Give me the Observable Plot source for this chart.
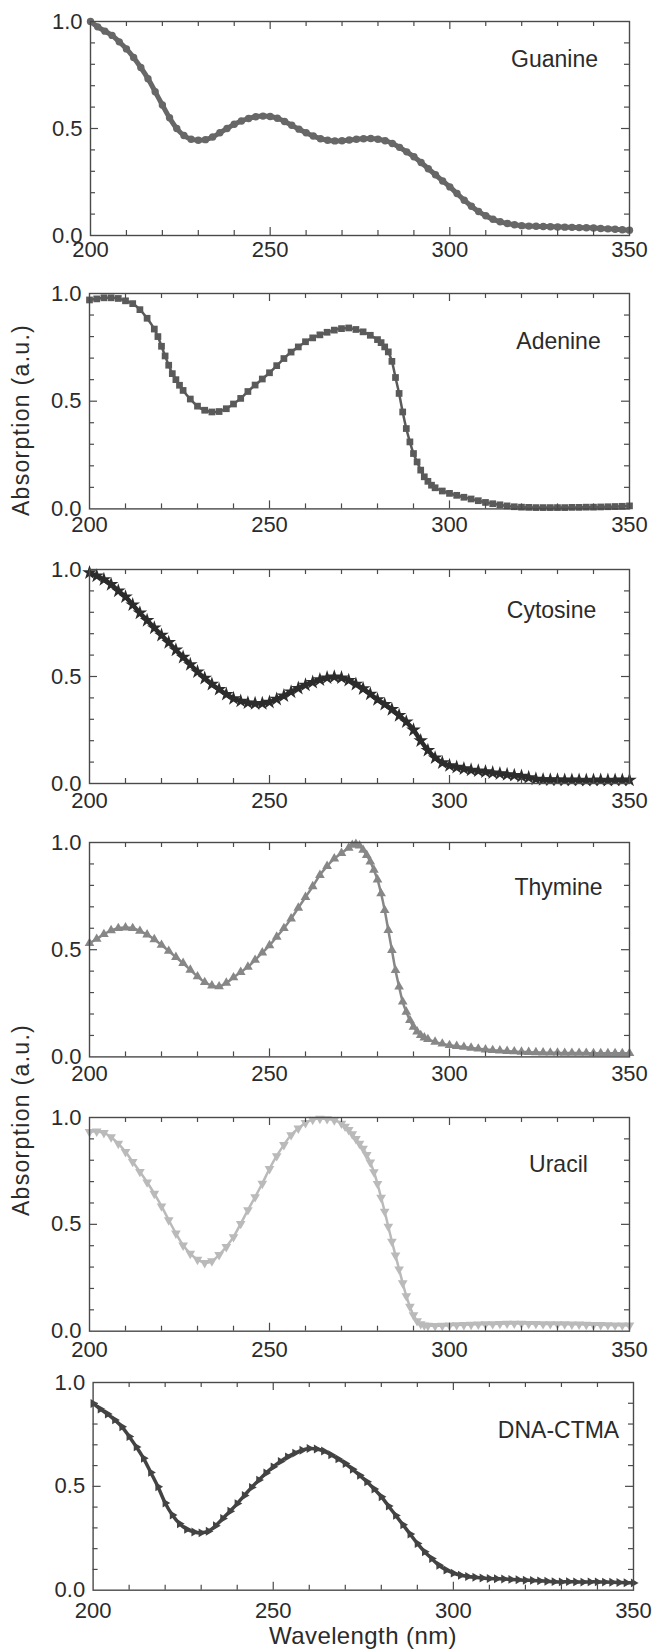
<!DOCTYPE html>
<html><head><meta charset="utf-8">
<script src="https://cdn.jsdelivr.net/npm/d3@7"></script>
<script src="https://cdn.jsdelivr.net/npm/@observablehq/plot@0.6"></script>
<style>
html,body{margin:0;padding:0;background:#fff;}
#chart{position:relative;width:654px;height:1650px;overflow:hidden;font-family:"Liberation Sans",Arial,Helvetica,sans-serif;color:#2b2b2b;background:#fff;}
#chart svg{position:absolute;left:0;}
.ylab{position:absolute;white-space:nowrap;font-size:23px;letter-spacing:1.3px;line-height:23px;transform:translate(-50%,-50%) rotate(-90deg);}
.xlab{position:absolute;white-space:nowrap;font-size:24px;line-height:24px;letter-spacing:0.4px;transform:translateX(-50%);}
</style></head><body><div id="chart"></div><script>
// ---- data (wavelength nm, absorption a.u.) ----
const guanine = [[200,1.000],[202,0.975],[204,0.955],[206,0.935],[208,0.905],[210,0.872],[212,0.832],[214,0.785],[216,0.733],[218,0.672],[220,0.610],[222,0.550],[224,0.500],[226,0.467],[228,0.450],[230,0.445],[232,0.448],[234,0.460],[236,0.480],[238,0.500],[240,0.520],[242,0.535],[244,0.547],[246,0.555],[248,0.558],[250,0.556],[252,0.548],[254,0.533],[256,0.515],[258,0.497],[260,0.480],[262,0.465],[264,0.452],[266,0.445],[268,0.442],[270,0.443],[272,0.446],[274,0.450],[276,0.452],[278,0.453],[280,0.450],[282,0.443],[284,0.430],[286,0.412],[288,0.391],[290,0.368],[292,0.341],[294,0.312],[296,0.284],[298,0.255],[300,0.227],[302,0.196],[304,0.165],[306,0.137],[308,0.112],[310,0.092],[312,0.076],[314,0.064],[316,0.056],[318,0.050],[320,0.046],[322,0.044],[324,0.043],[326,0.042],[328,0.041],[330,0.040],[332,0.039],[334,0.038],[336,0.037],[338,0.036],[340,0.035],[342,0.033],[344,0.031],[346,0.029],[348,0.027],[350,0.025]];
const adenine = [[200,0.970],[202,0.975],[204,0.980],[206,0.980],[208,0.977],[210,0.966],[212,0.953],[214,0.925],[216,0.885],[218,0.835],[219,0.800],[220,0.755],[221,0.710],[222,0.667],[223,0.628],[224,0.600],[225,0.574],[226,0.550],[228,0.510],[230,0.477],[232,0.458],[234,0.450],[236,0.452],[238,0.465],[240,0.487],[242,0.513],[244,0.545],[246,0.575],[248,0.603],[250,0.632],[252,0.665],[254,0.698],[256,0.728],[258,0.752],[260,0.776],[262,0.794],[264,0.808],[266,0.820],[268,0.830],[270,0.837],[272,0.840],[274,0.833],[276,0.822],[278,0.806],[280,0.786],[281,0.772],[282,0.752],[283,0.729],[284,0.685],[285,0.610],[286,0.536],[287,0.450],[288,0.373],[289,0.311],[290,0.257],[291,0.218],[292,0.180],[293,0.149],[294,0.128],[295,0.110],[296,0.098],[298,0.083],[300,0.072],[302,0.063],[304,0.054],[306,0.046],[308,0.038],[310,0.030],[312,0.024],[314,0.019],[316,0.014],[318,0.010],[320,0.008],[322,0.007],[324,0.006],[326,0.006],[328,0.006],[330,0.006],[332,0.006],[334,0.007],[336,0.007],[338,0.008],[340,0.008],[342,0.009],[344,0.010],[346,0.011],[348,0.012],[350,0.014]];
const cytosine = [[200,0.985],[202,0.970],[204,0.953],[206,0.930],[208,0.900],[210,0.872],[212,0.835],[214,0.797],[216,0.762],[218,0.727],[220,0.693],[222,0.659],[224,0.624],[226,0.590],[228,0.556],[230,0.522],[232,0.492],[234,0.464],[236,0.440],[238,0.417],[240,0.397],[242,0.385],[244,0.377],[246,0.374],[248,0.374],[250,0.380],[252,0.394],[254,0.410],[256,0.428],[258,0.445],[260,0.460],[262,0.473],[264,0.485],[266,0.494],[268,0.498],[270,0.494],[272,0.482],[274,0.464],[276,0.443],[278,0.418],[280,0.392],[282,0.370],[284,0.346],[286,0.318],[288,0.288],[290,0.250],[292,0.200],[294,0.155],[296,0.120],[298,0.097],[300,0.084],[302,0.076],[304,0.069],[306,0.063],[308,0.059],[310,0.055],[312,0.050],[314,0.046],[316,0.042],[318,0.038],[320,0.034],[322,0.028],[324,0.021],[326,0.018],[328,0.017],[330,0.017],[332,0.016],[334,0.016],[336,0.016],[338,0.015],[340,0.016],[342,0.016],[344,0.015],[346,0.016],[348,0.016],[350,0.016]];
const thymine = [[200,0.530],[202,0.550],[204,0.572],[206,0.590],[208,0.600],[210,0.603],[212,0.600],[214,0.587],[216,0.570],[218,0.548],[220,0.522],[222,0.494],[224,0.465],[226,0.437],[228,0.406],[230,0.375],[232,0.348],[234,0.332],[236,0.328],[238,0.345],[240,0.370],[242,0.395],[244,0.420],[246,0.452],[248,0.486],[250,0.520],[252,0.560],[254,0.600],[256,0.645],[258,0.695],[260,0.745],[262,0.795],[264,0.848],[266,0.890],[268,0.925],[270,0.950],[272,0.975],[273,0.988],[274,0.993],[275,0.985],[276,0.965],[277,0.941],[278,0.910],[279,0.872],[280,0.827],[281,0.762],[282,0.684],[283,0.591],[284,0.498],[285,0.404],[286,0.327],[287,0.257],[288,0.210],[289,0.171],[290,0.140],[291,0.118],[292,0.101],[293,0.090],[294,0.082],[296,0.070],[298,0.061],[300,0.054],[302,0.050],[304,0.046],[306,0.042],[308,0.038],[310,0.034],[312,0.031],[314,0.029],[316,0.027],[318,0.025],[320,0.023],[322,0.022],[324,0.021],[326,0.020],[328,0.019],[330,0.019],[332,0.018],[334,0.018],[336,0.018],[338,0.018],[340,0.017],[342,0.017],[344,0.017],[346,0.017],[348,0.017],[350,0.017]];
const uracil = [[200,0.933],[202,0.935],[204,0.928],[206,0.908],[208,0.878],[210,0.839],[212,0.793],[214,0.746],[216,0.697],[218,0.644],[220,0.585],[222,0.520],[224,0.458],[226,0.402],[228,0.363],[230,0.335],[232,0.320],[234,0.328],[236,0.357],[238,0.395],[240,0.441],[242,0.503],[244,0.567],[246,0.628],[248,0.691],[250,0.760],[252,0.820],[254,0.872],[256,0.918],[258,0.949],[260,0.975],[262,0.990],[264,0.995],[266,0.993],[268,0.987],[270,0.972],[271,0.958],[272,0.942],[273,0.922],[274,0.900],[275,0.878],[276,0.855],[277,0.825],[278,0.790],[279,0.745],[280,0.690],[281,0.625],[282,0.560],[283,0.490],[284,0.420],[285,0.355],[286,0.290],[287,0.225],[288,0.165],[289,0.115],[290,0.075],[291,0.048],[292,0.034],[293,0.028],[294,0.026],[296,0.025],[298,0.026],[300,0.028],[302,0.029],[304,0.030],[306,0.031],[308,0.032],[310,0.033],[312,0.034],[314,0.035],[316,0.036],[318,0.036],[320,0.036],[322,0.035],[324,0.035],[326,0.034],[328,0.034],[330,0.033],[332,0.033],[334,0.032],[336,0.032],[338,0.031],[340,0.030],[342,0.030],[344,0.029],[346,0.028],[348,0.028],[350,0.027]];
const dnaCtma = [[200,0.899],[202,0.872],[204,0.848],[206,0.820],[208,0.787],[210,0.740],[212,0.690],[214,0.635],[216,0.567],[218,0.498],[220,0.420],[222,0.362],[224,0.320],[226,0.293],[228,0.280],[230,0.276],[232,0.284],[234,0.310],[236,0.345],[238,0.380],[240,0.417],[242,0.456],[244,0.495],[246,0.530],[248,0.564],[250,0.594],[252,0.620],[254,0.642],[256,0.660],[258,0.674],[260,0.682],[262,0.680],[264,0.670],[266,0.652],[268,0.632],[270,0.610],[272,0.582],[274,0.553],[276,0.522],[278,0.487],[280,0.450],[282,0.405],[284,0.360],[286,0.315],[288,0.270],[290,0.225],[292,0.185],[294,0.152],[296,0.120],[298,0.097],[300,0.082],[302,0.072],[304,0.066],[306,0.062],[308,0.059],[310,0.056],[312,0.055],[314,0.054],[316,0.052],[318,0.050],[320,0.048],[322,0.047],[324,0.045],[326,0.043],[328,0.041],[330,0.040],[332,0.041],[334,0.040],[336,0.039],[338,0.040],[340,0.040],[342,0.039],[344,0.038],[346,0.037],[348,0.036],[350,0.035]];

const seriesNames = ["Guanine", "Adenine", "Cytosine", "Thymine", "Uracil", "DNA-CTMA"];
const seriesData = [guanine, adenine, cytosine, thymine, uracil, dnaCtma];
const xTickLabels = [200, 250, 300, 350];
const yTickLabels = [0, 0.5, 1.0];
const xMinorTicks = [210, 220, 230, 240, 260, 270, 280, 290, 310, 320, 330, 340];
const xMajorTicks = [250, 300];
const yMinorTicks = [0.1, 0.2, 0.3, 0.4, 0.6, 0.7, 0.8, 0.9];
const yMajorTicks = [0.5];
const yTitle = "Absorption (a.u.)";
const xTitle = "Wavelength (nm)";

// ---- styles / layout ----
const FONT = '"Liberation Sans", Arial, Helvetica, sans-serif';
const AXIS = "#4a4a4a";
const styles = [
  {color: "#676767", symbol: "circle",   r: 3.7, rotate: 0,   lw: 5,   frame: [90, 629, 21.3, 235.3],  label: [-75, 29], pad: 6},
  {color: "#5a5a5a", symbol: "square",   r: 3.8, rotate: 0,   lw: 2.5, frame: [89, 629, 293.3, 508.7], label: [-71, 39], pad: 7},
  {color: "#2c2c2c", symbol: "star",     r: 4.6, rotate: 0,   lw: 4.5, frame: [89, 629, 569.3, 783.3], label: [-78, 32], pad: 9},
  {color: "#878787", symbol: "triangle", r: 3.6, rotate: 0,   lw: 2.5, frame: [89, 629, 842.3, 1056.7],label: [-71, 36], pad: 8},
  {color: "#bababa", symbol: "triangle", r: 3.6, rotate: 180, lw: 2.5, frame: [89, 629, 1117.3, 1331], label: [-71, 38], pad: 10},
  {color: "#434343", symbol: "triangle", r: 3.3, rotate: 90,  lw: 3.5, frame: [92.6, 633, 1382.3, 1590], label: [-75, 39], pad: 12}
];

const chart = document.getElementById("chart");
seriesNames.forEach((name, i) => {
  const s = styles[i];
  const [L, R, T, B] = s.frame;
  const H = B - T, Wf = R - L;
  const mt = 30, mb = 45;
  const rows = seriesData[i].map(([x, y]) => ({x, y}));
  const tick = {stroke: AXIS, strokeWidth: 1.2};
  const svg = Plot.plot({
    width: 654, height: H + mt + mb,
    marginLeft: L, marginRight: 654 - R, marginTop: mt, marginBottom: mb,
    x: {domain: [200, 350]},
    y: {domain: [0, 1]},
    style: {background: "transparent", overflow: "visible", fontFamily: FONT, color: "#2b2b2b"},
    marks: [
      Plot.line(rows, {x: "x", y: "y", stroke: s.color, strokeWidth: s.lw, curve: "catmull-rom"}),
      Plot.dot(rows, {x: "x", y: "y", symbol: s.symbol, r: s.r, fill: s.color, stroke: "none", rotate: s.rotate}),
      Plot.ruleX(xMinorTicks, {...tick, insetTop: H - 5}),
      Plot.ruleX(xMinorTicks, {...tick, insetBottom: H - 5}),
      Plot.ruleX(xMajorTicks, {...tick, insetTop: H - 8}),
      Plot.ruleX(xMajorTicks, {...tick, insetBottom: H - 8}),
      Plot.ruleY(yMinorTicks, {...tick, insetRight: Wf - 5}),
      Plot.ruleY(yMinorTicks, {...tick, insetLeft: Wf - 5}),
      Plot.ruleY(yMajorTicks, {...tick, insetRight: Wf - 8}),
      Plot.ruleY(yMajorTicks, {...tick, insetLeft: Wf - 8}),
      Plot.frame({stroke: AXIS, strokeWidth: 1.4}),
      Plot.axisX(xTickLabels, {tickSize: 0, tickPadding: s.pad, fontSize: 22, label: null, tickFormat: d => String(d)}),
      Plot.axisY(yTickLabels, {tickSize: 0, tickPadding: 8, fontSize: 22, label: null, tickFormat: d3.format(".1f")}),
      Plot.text([name], {frameAnchor: "top-right", dx: s.label[0], dy: s.label[1], textAnchor: "middle", fontSize: 23, fill: "#2b2b2b"})
    ]
  });
  svg.style.top = (T - mt) + "px";
  chart.append(svg);
});

[420, 1120].forEach(cy => {
  const d = document.createElement("div");
  d.className = "ylab";
  d.textContent = yTitle;
  d.style.left = "21px";
  d.style.top = cy + "px";
  chart.append(d);
});
const xl = document.createElement("div");
xl.className = "xlab";
xl.textContent = xTitle;
xl.style.left = "363px";
xl.style.top = "1624px";
chart.append(xl);
</script></body></html>
